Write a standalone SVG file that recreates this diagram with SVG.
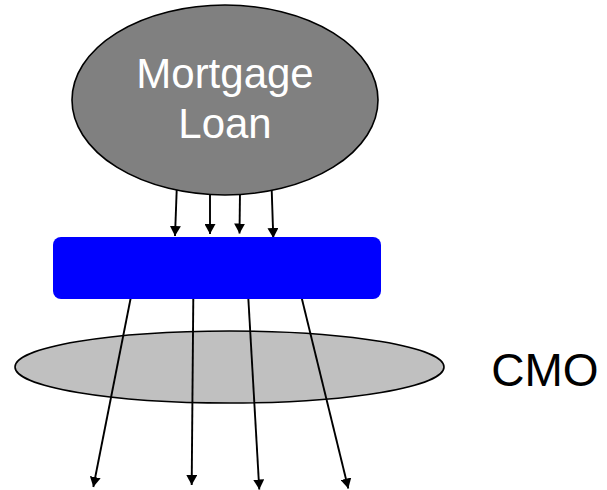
<svg xmlns="http://www.w3.org/2000/svg" width="607" height="490" viewBox="0 0 607 490">
<style>
.lbl{font-family:"Liberation Sans",Arial,sans-serif;}
.conn{stroke:#000;stroke-width:1.9;fill:none;marker-end:url(#ah);}
.outline{stroke:#000;stroke-width:1.6;}
</style>
<defs>
<marker id="ah" markerUnits="userSpaceOnUse" markerWidth="11" markerHeight="11" refX="10" refY="5.5" orient="auto">
<path d="M0,0 L10,5.5 L0,11 z" fill="#000"/>
</marker>
</defs>
<g id="cmo">
<ellipse cx="229.5" cy="367" rx="214.5" ry="36" fill="#c0c0c0" stroke="#000" stroke-width="1.6"/>
<text class="lbl" x="545" y="386" font-size="46" fill="#000" text-anchor="middle">CMO</text>
</g>
<g id="connectors">
<line class="conn" x1="176.7" y1="190" x2="175" y2="236"/>
<line class="conn" x1="210" y1="192" x2="210" y2="234"/>
<line class="conn" x1="240" y1="192" x2="239.5" y2="233.5"/>
<line class="conn" x1="271.7" y1="190" x2="273.3" y2="238"/>
<line class="conn" x1="130.7" y1="298" x2="93.3" y2="487"/>
<line class="conn" x1="193.3" y1="298" x2="191.7" y2="485"/>
<line class="conn" x1="248.3" y1="298" x2="259.3" y2="489.5"/>
<line class="conn" x1="301.7" y1="298" x2="348.3" y2="488.5"/>
</g>
<g id="mortgage-loan">
<ellipse class="outline" cx="225" cy="100" rx="153" ry="95" fill="#808080"/>
<text class="lbl" x="225" y="88" font-size="42" fill="#fff" text-anchor="middle">Mortgage</text>
<text class="lbl" x="225" y="138" font-size="42" fill="#fff" text-anchor="middle">Loan</text>
</g>
<g id="blue-box">
<rect x="53" y="237" width="328" height="62" rx="8" ry="8" fill="#0000ff"/>
</g>
</svg>
